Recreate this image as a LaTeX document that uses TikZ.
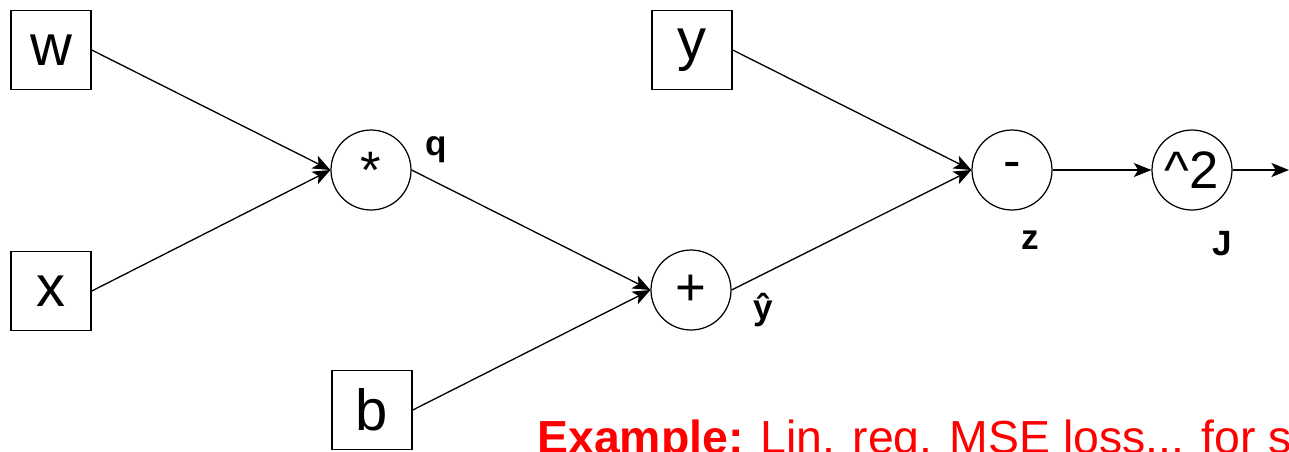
\documentclass[tikz,border=0pt]{standalone}
\usepackage{fontspec}
\setmainfont{Liberation Sans}
\usepackage{xcolor}
\usetikzlibrary{arrows.meta, positioning}
\definecolor{examplered}{HTML}{FF0000}

\begin{document}
\begin{tikzpicture}[
    x=0.02cm, y=-0.02cm,
    var/.style={draw, line width=0.9pt, minimum width=1.6cm, minimum height=1.58cm, inner sep=0pt, font=\fontsize{33}{37}\selectfont},
    op/.style={draw, circle, line width=0.7pt, minimum size=1.6cm, inner sep=0pt, font=\fontsize{30}{34}\selectfont},
    label/.style={font=\fontsize{20}{24}\selectfont\bfseries},
    arrow/.style={-{Stealth[length=10pt, width=8pt, inset=2.5pt]}, line width=0.75pt}
]
\useasboundingbox (0,0) rectangle (1289,451);
\clip (0,0) rectangle (1289,451);

% Inputs
\node[var] (w) at (51,50) {w};
\node[var] (x) at (51,291) {x};
\node[var] (y) at (692,50) {y};
\node[var] (b) at (372,410) {b};

% Operations
\node[op] (mul) at (371,170) {*};
\node[op] (add) at (691,290) {+};
\node[op] (sub) at (1012,170) {-};
\node[op] (sq) at (1192,170) {\textasciicircum 2};
\coordinate (out) at (1289,170);

% Intermediate names
\node[label] (q) at (436,150) {q};
\node[label] (yhat) at (763,310) {ŷ};
\node[label] (z) at (1030,240) {z};
\node[label] (J) at (1222,244) {J};

% Arrows
\draw[arrow] (w.east) -- (mul.west);
\draw[arrow] (x.east) -- (mul.west);
\draw[arrow] (mul.east) -- (add.west);
\draw[arrow] (b.east) -- (add.west);
\draw[arrow] (y.east) -- (sub.west);
\draw[arrow] (add.east) -- (sub.west);
\draw[arrow] (sub.east) -- (sq.west);
\draw[arrow] (sq.east) -- (out);

% Caption
\node[anchor=base west, inner sep=0pt, text=examplered, font=\fontsize{26.4}{30}\selectfont] (caption) at (537,453) {\textbf{Example:} Lin. reg. MSE loss... for s};
\end{tikzpicture}
\end{document}
